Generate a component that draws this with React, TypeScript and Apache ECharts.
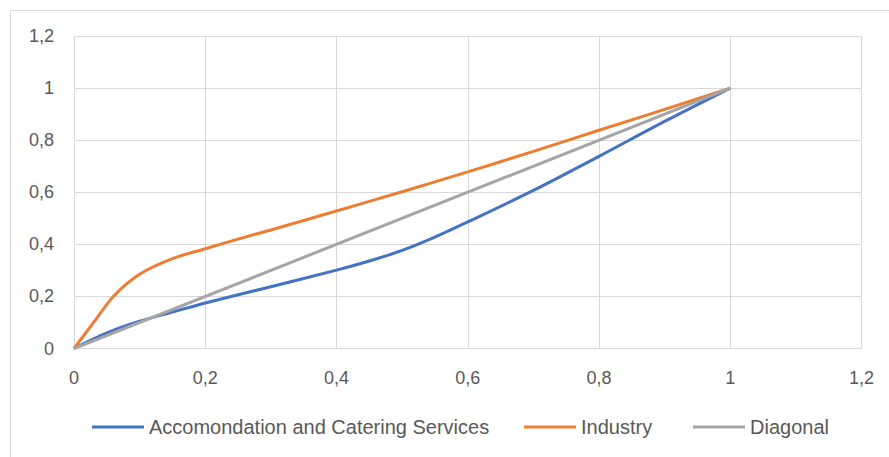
import React, { useEffect, useRef } from "react";
import * as echarts from "echarts";

const xTicks = [0, 0.2, 0.4, 0.6, 0.8, 1, 1.2];

const accX = [0, 0.05, 0.1, 0.15, 0.2, 0.3, 0.4, 0.45, 0.5, 0.55, 0.6, 0.7, 0.8, 0.9, 1];
const accY = [0, 0.06, 0.105, 0.14, 0.175, 0.237, 0.301, 0.336, 0.377, 0.428, 0.486, 0.607, 0.738, 0.872, 1];

const indX = [0, 0.03, 0.06, 0.1, 0.15, 0.2, 0.25, 0.3, 0.4, 0.5, 0.6, 0.7, 0.8, 0.9, 1];
const indY = [0, 0.1, 0.2, 0.285, 0.345, 0.383, 0.42, 0.455, 0.528, 0.602, 0.678, 0.757, 0.838, 0.918, 1];

const diagX = [0, 1];
const diagY = [0, 1];

const seriesNames = ["Accomondation and Catering Services", "Industry", "Diagonal"];
const colors = ["#4472C4", "#ED7D31", "#A5A5A5"];

const fmt = (v: number) => String(Math.round(v * 10) / 10).replace(".", ",");

export default function App() {
  const ref = useRef<HTMLDivElement>(null);
  useEffect(() => {
    document.body.style.margin = "0";
    const chart = echarts.init(ref.current!, null, { renderer: "svg" });
    const pairs = (xs: number[], ys: number[]) => xs.map((x, i) => [x, ys[i]]);
    const font = "'Liberation Sans', Arial, sans-serif";
    const legendLefts = [92, 524, 693];
    chart.setOption({
      animation: false,
      backgroundColor: "#ffffff",
      textStyle: { fontFamily: font },
      graphic: [
        { type: "line", shape: { x1: 10, y1: 10.5, x2: 889, y2: 10.5 }, style: { stroke: "#D9D9D9", lineWidth: 1 } },
        { type: "line", shape: { x1: 10.5, y1: 10, x2: 10.5, y2: 457 }, style: { stroke: "#D9D9D9", lineWidth: 1 } },
      ],
      grid: { left: 74, right: 27.5, top: 36, bottom: 108.5, containLabel: false },
      legend: seriesNames.map((n, i) => ({
        top: 417,
        left: legendLefts[i],
        itemWidth: 52,
        itemHeight: 3,
        itemGap: 0,
        padding: 0,
        icon: "rect",
        textStyle: { fontSize: 20, color: "#595959", fontFamily: font },
        data: [n],
      })),
      xAxis: {
        type: "value",
        min: 0,
        max: 1.2,
        interval: 0.2,
        axisLine: { show: true, lineStyle: { color: "#D9D9D9", width: 1 } },
        axisTick: { show: false },
        axisLabel: { formatter: fmt, color: "#595959", fontSize: 18, margin: 20 },
        splitLine: { show: true, lineStyle: { color: "#D9D9D9", width: 1 } },
      },
      yAxis: {
        type: "value",
        min: 0,
        max: 1.2,
        interval: 0.2,
        axisLine: { show: false },
        axisTick: { show: false },
        axisLabel: { formatter: fmt, color: "#595959", fontSize: 18, margin: 20 },
        splitLine: { show: true, lineStyle: { color: "#D9D9D9", width: 1 } },
      },
      series: [
        {
          name: seriesNames[0],
          type: "line",
          data: pairs(accX, accY),
          smooth: 0.3,
          showSymbol: false,
          symbol: "none",
          lineStyle: { color: colors[0], width: 3 },
          itemStyle: { color: colors[0] },
          z: 3,
        },
        {
          name: seriesNames[1],
          type: "line",
          data: pairs(indX, indY),
          smooth: 0.3,
          showSymbol: false,
          symbol: "none",
          lineStyle: { color: colors[1], width: 3 },
          itemStyle: { color: colors[1] },
          z: 4,
        },
        {
          name: seriesNames[2],
          type: "line",
          data: pairs(diagX, diagY),
          showSymbol: false,
          symbol: "none",
          lineStyle: { color: colors[2], width: 3 },
          itemStyle: { color: colors[2] },
          z: 5,
        },
      ],
    });
    return () => chart.dispose();
  }, []);
  return <div ref={ref} style={{ width: 889, height: 457 }} />;
}
